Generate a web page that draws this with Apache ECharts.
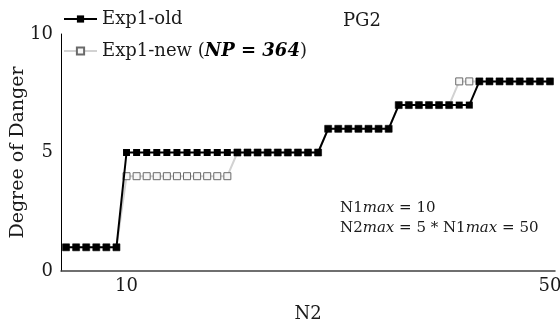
<!DOCTYPE html>
<html>
<head>
<meta charset="utf-8">
<script src="https://cdn.jsdelivr.net/npm/echarts@6/dist/echarts.min.js"></script>
<style>
html, body { margin: 0; padding: 0; background: #fff; }
#chart { width: 560px; height: 327px; }
</style>
</head>
<body>
<div id="chart"></div>
<script>
// point number along N2 (category axis)
var points = [1, 2, 3, 4, 5, 6, 7, 8, 9, 10, 11, 12, 13, 14, 15, 16, 17, 18, 19, 20,
    21, 22, 23, 24, 25, 26, 27, 28, 29, 30, 31, 32, 33, 34, 35, 36, 37, 38, 39, 40,
    41, 42, 43, 44, 45, 46, 47, 48, 49];
// labels shown under the x axis, keyed by point index
var xTickLabels = { 6: '10', 48: '50' };
var yTicks = [0, 5, 10];

var oldDanger = [1, 1, 1, 1, 1, 1,
    5, 5, 5, 5, 5, 5, 5, 5, 5, 5, 5, 5, 5, 5, 5, 5, 5, 5, 5, 5,
    6, 6, 6, 6, 6, 6, 6,
    7, 7, 7, 7, 7, 7, 7, 7,
    8, 8, 8, 8, 8, 8, 8, 8];
var newDanger = [1, 1, 1, 1, 1, 1,
    4, 4, 4, 4, 4, 4, 4, 4, 4, 4, 4,
    5, 5, 5, 5, 5, 5, 5, 5, 5,
    6, 6, 6, 6, 6, 6, 6,
    7, 7, 7, 7, 7, 7,
    8, 8,
    8, 8, 8, 8, 8, 8, 8, 8];

var serif = 'DejaVu Serif';
var ink = '#1a1a1a';

var myChart = echarts.init(document.getElementById('chart'));
var option = {
    animation: false,
    title: {
        text: 'PG2',
        left: 343,
        top: 12,
        padding: 0,
        textStyle: { fontFamily: serif, fontSize: 18, fontWeight: 'normal', color: ink }
    },
    legend: [
        {
            data: ['Exp1-old'],
            left: 63,
            top: 10,
            padding: 0,
            itemWidth: 33,
            itemHeight: 9,
            textStyle: { fontFamily: serif, fontSize: 18, color: ink }
        },
        {
            data: ['Exp1-new'],
            left: 63,
            top: 42,
            padding: 0,
            itemWidth: 33,
            itemHeight: 9,
            formatter: function (name) {
                return name + ' ({b|NP = 364})';
            },
            textStyle: {
                fontFamily: serif, fontSize: 18, color: ink,
                rich: {
                    b: { fontFamily: serif, fontSize: 18, fontWeight: 'bold', fontStyle: 'italic', color: '#000' }
                }
            }
        }
    ],
    grid: {
        left: 61,
        right: 5,
        top: 34,
        bottom: 56,
        outerBoundsMode: 'none'
    },
    xAxis: {
        type: 'category',
        data: points,
        boundaryGap: true,
        name: 'N2',
        nameLocation: 'middle',
        nameGap: 34,
        nameMoveOverlap: false,
        nameTextStyle: { fontFamily: serif, fontSize: 18, color: ink },
        axisLine: { lineStyle: { color: '#404040', width: 1.5 } },
        axisTick: { show: false },
        axisLabel: {
            interval: function (index) {
                return xTickLabels[index] !== undefined;
            },
            formatter: function (value, index) {
                return xTickLabels[index] || '';
            },
            margin: 6,
            fontFamily: serif,
            fontSize: 18,
            color: ink
        }
    },
    yAxis: {
        type: 'value',
        min: yTicks[0],
        max: yTicks[yTicks.length - 1],
        interval: yTicks[1] - yTicks[0],
        name: 'Degree of Danger',
        nameLocation: 'middle',
        nameRotate: 90,
        nameGap: 33,
        nameMoveOverlap: false,
        nameTextStyle: { fontFamily: serif, fontSize: 19, color: ink },
        splitLine: { show: false },
        axisTick: { show: false },
        axisLine: { show: true, lineStyle: { color: '#000', width: 1 } },
        axisLabel: { margin: 8, fontFamily: serif, fontSize: 18, color: ink }
    },
    graphic: [
        {
            type: 'text',
            left: 340,
            top: 201,
            style: {
                text: '{r|N1}{i|max}{r| = 10}\n{r|N2}{i|max}{r| = 5 * N1}{i|max}{r| = 50}',
                rich: {
                    r: { fontFamily: serif, fontSize: 15, lineHeight: 20, fill: ink },
                    i: { fontFamily: serif, fontSize: 15, lineHeight: 20, fontStyle: 'italic', fill: ink }
                }
            }
        }
    ],
    series: [
        {
            name: 'Exp1-new',
            type: 'line',
            data: newDanger,
            symbol: 'rect',
            symbolSize: 7,
            showAllSymbol: true,
            z: 2,
            lineStyle: { color: '#d2d2d2', width: 2 },
            itemStyle: { color: '#f7f7f7', borderColor: '#6a6a6a', borderWidth: 1 }
        },
        {
            name: 'Exp1-old',
            type: 'line',
            data: oldDanger,
            symbol: 'rect',
            symbolSize: 7,
            showAllSymbol: true,
            z: 3,
            lineStyle: { color: '#000', width: 2 },
            itemStyle: { color: '#000' }
        }
    ]
};
myChart.setOption(option);
</script>
</body>
</html>
